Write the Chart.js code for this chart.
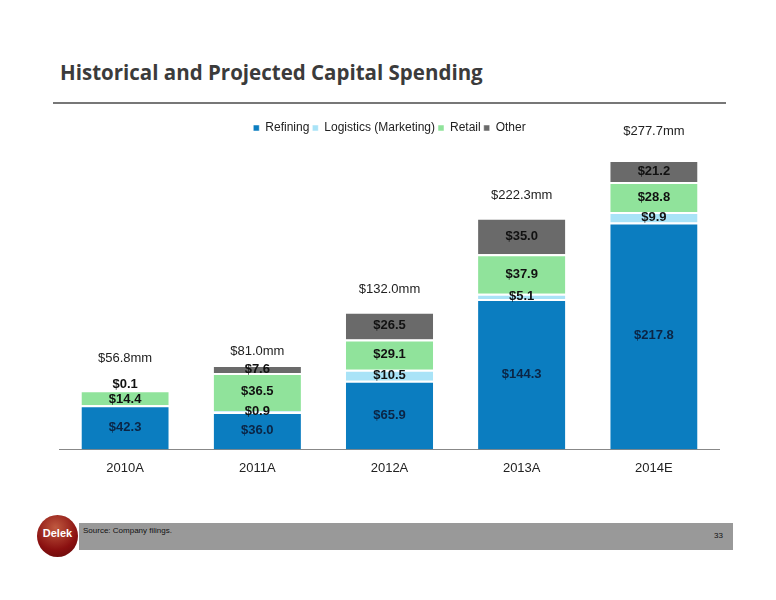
<!DOCTYPE html>
<html><head><meta charset="utf-8">
<script src="https://cdn.jsdelivr.net/npm/chart.js@4/dist/chart.umd.min.js"></script>
<style>
body{margin:0;width:776px;height:600px;background:#fff;position:relative;overflow:hidden;font-family:"Liberation Sans",Arial,sans-serif}
#title{position:absolute;left:60px;top:58px;font-family:"Open Sans","Liberation Sans",sans-serif;font-weight:bold;font-size:20.5px;color:#3b3b3b}
#rule{position:absolute;left:53px;top:102px;width:673px;height:2px;background:#777}
#wrap{position:absolute;left:59px;top:113px;width:661px;height:366px}
#foot{position:absolute;left:79px;top:523px;width:654px;height:27px;background:#999;font-size:8px;color:#111}
#foot .s{position:absolute;left:4px;top:3px}
#foot .n{position:absolute;right:10px;top:8px}
#logo{position:absolute;left:37px;top:515px;width:41px;height:42px;border-radius:50%;background:radial-gradient(circle at 45% 30%,#c05a40,#8a1010 60%,#5a0808);color:#fff;font-weight:bold;font-size:11px;text-align:center;line-height:36px}
</style></head><body>
<div id="title">Historical and Projected Capital Spending</div>
<div id="rule"></div>
<div id="wrap"><canvas id="c"></canvas></div>
<div id="logo">Delek</div>
<div id="foot"><span class="s">Source: Company filings.</span><span class="n">33</span></div>
<script>
const categories=["2010A","2011A","2012A","2013A","2014E"];
const refining=[42.3,36.0,65.9,144.3,217.8];
const logistics=[0,0.9,10.5,5.1,9.9];
const retail=[14.4,36.5,29.1,37.9,28.8];
const other=[0.1,7.6,26.5,35.0,21.2];
const totals=["$56.8mm","$81.0mm","$132.0mm","$222.3mm","$277.7mm"];
const totalVals=[56.8,81.0,132.0,222.3,277.7];
const FONT="'Liberation Sans',Arial";
const series=[["Refining",refining,"#0b7dc0"],["Logistics (Marketing)",logistics,"#a9e3f7"],["Retail",retail,"#90e39b"],["Other",other,"#6a6a6a"]];
const labelPlugin={id:"lbl",afterDatasetsDraw(ch){
 const ctx=ch.ctx;ctx.save();ctx.font="bold 13px "+FONT;ctx.textAlign="center";ctx.textBaseline="middle";
 ch.data.datasets.forEach((ds,i)=>{const m=ch.getDatasetMeta(i);m.data.forEach((b,j)=>{const v=ds.data[j];if(!v)return;
  let y=(b.y+b.base)/2;if(i===3&&j===0)y=b.y-6;if(i===2&&j===0)y=(b.y+b.base)/2+2;
  ctx.fillStyle=i===0?"#0b2545":"#111";ctx.fillText("$"+v.toFixed(1),b.x,y);});});
 ctx.font="13px "+FONT;ctx.fillStyle="#222";
 const ys=ch.scales.y;const m0=ch.getDatasetMeta(0);
 totals.forEach((t,j)=>{ctx.fillText(t,m0.data[j].x,ys.getPixelForValue(totalVals[j])-(j===4?29:j===1?14:j===0?32:22));});
 ctx.restore();}};
new Chart(document.getElementById("c"),{type:"bar",
 data:{labels:categories,datasets:series.map(s=>({label:s[0],data:s[1],backgroundColor:s[2],borderColor:"#fff",borderWidth:{top:2,bottom:0,left:0,right:0},borderSkipped:false,categoryPercentage:0.66,barPercentage:1}))},
 options:{responsive:true,maintainAspectRatio:false,animation:false,
  layout:{padding:{top:6}},
  plugins:{legend:{position:"top",labels:{boxWidth:6,boxHeight:6,font:{size:12,family:FONT},color:"#222",padding:3}},tooltip:{enabled:false}},
  scales:{x:{stacked:true,grid:{display:false},border:{color:"#888"},ticks:{color:"#222",font:{size:13,family:FONT}}},
   y:{stacked:true,min:0,max:293,display:false}}},
 plugins:[labelPlugin]});
</script></body></html>
